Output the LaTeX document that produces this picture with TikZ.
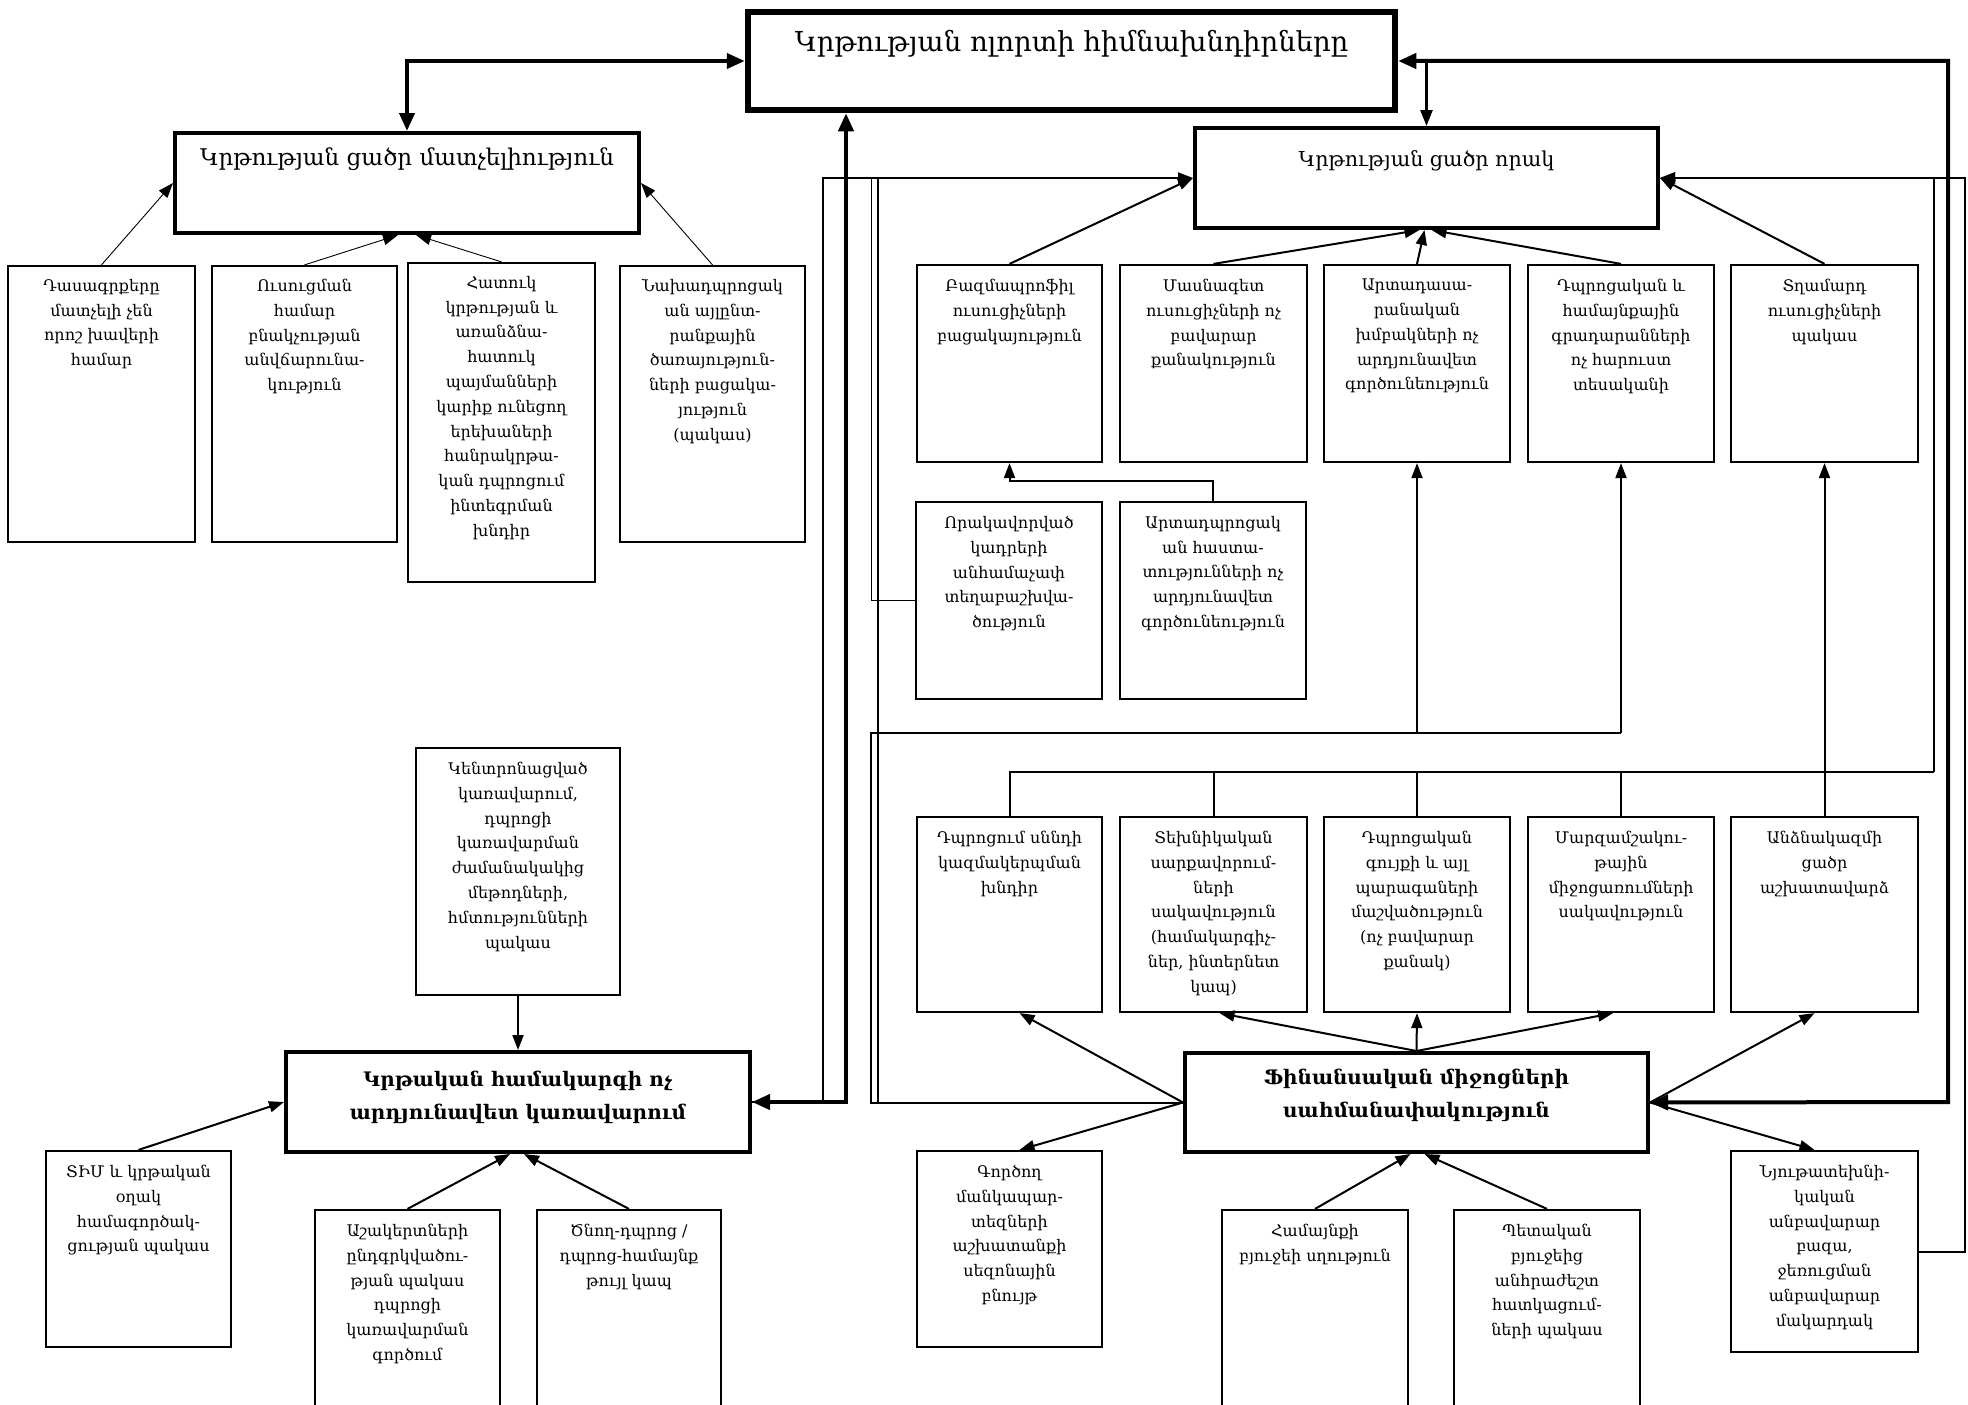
\documentclass[tikz,border=0pt]{standalone}
\usepackage{fontspec}
\setmainfont{DejaVu Serif}
\usetikzlibrary{arrows.meta}
\tikzset{
  bxthin/.style={draw, line width=2.2pt, rectangle, inner sep=0pt},
  bxthick/.style={draw, line width=4pt, rectangle, inner sep=0pt},
  bxmain/.style={draw, line width=6.5pt, rectangle, inner sep=0pt},
  txs/.style={align=center, inner sep=0pt, font=\fontsize{16}{24.8}\selectfont},
  txm/.style={align=center, inner sep=0pt, font=\fontsize{20.6}{30}\selectfont},
  txa/.style={align=center, inner sep=0pt, font=\fontsize{23}{30}\selectfont},
  txb/.style={align=center, inner sep=0pt, font=\bfseries\fontsize{20}{33}\selectfont},
  txl/.style={align=center, inner sep=0pt, font=\fontsize{27.5}{30}\selectfont},
  arA/.style={line width=0.9pt, -{Triangle[length=15pt,width=11pt]}},
  arB/.style={line width=2pt, -{Triangle[length=15pt,width=11pt]}},
  arS/.style={line width=2.6pt, -{Triangle[length=16pt,width=12pt]}},
  lnB/.style={line width=2pt},
  lnC/.style={line width=1pt},
  arT/.style={line width=4pt, {Triangle[length=18pt,width=15pt]}-{Triangle[length=18pt,width=15pt]}},
}
\newcommand\mkbox[9]{%
  \node[#6, minimum width={(#4-#2)*1pt}, minimum height={(#5-#3)*1pt}] (#1) at ({(#2+#4)/2},{(#3+#5)/2}) {};
  \node[#7, anchor=north] (#1-t) at ([yshift=-#8pt]#1.north) {#9};
}
\begin{document}
\begin{tikzpicture}[x=1pt,y=-1pt]
\fill[white] (0,0) rectangle (1968,1405);
\useasboundingbox (0,0) rectangle (1968,1405);

% ---------- boxes ----------
\mkbox{m}{748}{12}{1395}{110}{bxmain}{txl}{21}{Կրթության ոլորտի հիմնախնդիրները}
\mkbox{a}{175}{133}{639}{233}{bxthick}{txa}{17}{Կրթության ցածր մատչելիություն}
\mkbox{b1}{8}{266}{195}{542}{bxthin}{txs}{14}{Դասագրքերը\\մատչելի չեն\\որոշ խավերի\\համար}
\mkbox{b2}{212}{266}{397}{542}{bxthin}{txs}{14}{Ուսուցման\\համար\\բնակչության\\անվճարունա-\\կություն}
\mkbox{b3}{408}{263}{595}{582}{bxthin}{txs}{14}{Հատուկ\\կրթության և\\առանձնա-\\հատուկ\\պայմանների\\կարիք ունեցող\\երեխաների\\հանրակրթա-\\կան դպրոցում\\ինտեգրման\\խնդիր}
\mkbox{b4}{620}{266}{805}{542}{bxthin}{txs}{14}{Նախադպրոցակ\\ան այլընտ-\\րանքային\\ծառայություն-\\ների բացակա-\\յություն\\(պակաս)}

\mkbox{q}{1195}{128}{1658}{228}{bxthick}{txm}{24}{Կրթության ցածր որակ}
\mkbox{u1}{917}{265}{1102}{462}{bxthin}{txs}{15}{Բազմապրոֆիլ\\ուսուցիչների\\բացակայություն}
\mkbox{u2}{1120}{265}{1307}{462}{bxthin}{txs}{15}{Մասնագետ\\ուսուցիչների ոչ\\բավարար\\քանակություն}
\mkbox{u3}{1324}{265}{1510}{462}{bxthin}{txs}{15}{Արտադասա-\\րանական\\խմբակների ոչ\\արդյունավետ\\գործունեություն}
\mkbox{u4}{1528}{265}{1714}{462}{bxthin}{txs}{15}{Դպրոցական և\\համայնքային\\գրադարանների\\ոչ հարուստ\\տեսականի}
\mkbox{u5}{1731}{265}{1918}{462}{bxthin}{txs}{15}{Տղամարդ\\ուսուցիչների\\պակաս}

\mkbox{r1}{916}{502}{1102}{699}{bxthin}{txs}{15}{Որակավորված\\կադրերի\\անհամաչափ\\տեղաբաշխվա-\\ծություն}
\mkbox{r2}{1120}{502}{1306}{699}{bxthin}{txs}{15}{Արտադպրոցակ\\ան հաստա-\\տությունների ոչ\\արդյունավետ\\գործունեություն}

\mkbox{l1}{917}{817}{1102}{1012}{bxthin}{txs}{15}{Դպրոցում սննդի\\կազմակերպման\\խնդիր}
\mkbox{l2}{1120}{817}{1307}{1012}{bxthin}{txs}{15}{Տեխնիկական\\սարքավորում-\\ների\\սակավություն\\(համակարգիչ-\\ներ, ինտերնետ\\կապ)}
\mkbox{l3}{1324}{817}{1510}{1012}{bxthin}{txs}{15}{Դպրոցական\\գույքի և այլ\\պարագաների\\մաշվածություն\\(ոչ բավարար\\քանակ)}
\mkbox{l4}{1528}{817}{1714}{1012}{bxthin}{txs}{15}{Մարզամշակու-\\թային\\միջոցառումների\\սակավություն}
\mkbox{l5}{1731}{817}{1918}{1012}{bxthin}{txs}{15}{Անձնակազմի\\ցածր\\աշխատավարձ}

\mkbox{f}{1185}{1053}{1648}{1152}{bxthick}{txb}{18}{Ֆինանսական միջոցների\\սահմանափակություն}
\mkbox{k1}{917}{1151}{1102}{1347}{bxthin}{txs}{15}{Գործող\\մանկապար-\\տեզների\\աշխատանքի\\սեզոնային\\բնույթ}
\mkbox{k2}{1222}{1210}{1408}{1425}{bxthin}{txs}{15}{Համայնքի\\բյուջեի սղություն}
\mkbox{k3}{1454}{1210}{1640}{1425}{bxthin}{txs}{15}{Պետական\\բյուջեից\\անհրաժեշտ\\հատկացում-\\ների պակաս}
\mkbox{k4}{1731}{1151}{1918}{1352}{bxthin}{txs}{15}{Նյութատեխնի-\\կական\\անբավարար\\բազա,\\ջեռուցման\\անբավարար\\մակարդակ}

\mkbox{kent}{416}{748}{620}{995}{bxthin}{txs}{15}{Կենտրոնացված\\կառավարում,\\դպրոցի\\կառավարման\\ժամանակակից\\մեթոդների,\\հմտությունների\\պակաս}
\mkbox{g}{286}{1052}{750}{1152}{bxthick}{txb}{21}{Կրթական համակարգի ոչ\\արդյունավետ կառավարում}
\mkbox{tim}{46}{1151}{231}{1347}{bxthin}{txs}{15}{ՏԻՄ և կրթական\\օղակ\\համագործակ-\\ցության պակաս}
\mkbox{ash}{315}{1210}{500}{1425}{bxthin}{txs}{15}{Աշակերտների\\ընդգրկվածու-\\թյան պակաս\\դպրոցի\\կառավարման\\գործում}
\mkbox{tsn}{537}{1210}{721}{1425}{bxthin}{txs}{15}{Ծնող-դպրոց /\\դպրոց-համայնք\\թույլ կապ}

% ---------- coordinates ----------
\coordinate (jq) at (q.north |- m.east);
\coordinate (rr) at (1948,1102);
\coordinate (gx) at (846,1102);
\coordinate (bw1) at (823,178);
\coordinate (bw2) at (871,178);
\coordinate (bw3) at (878,178);
\coordinate (c1) at (871,733);
\coordinate (d1) at (1934,772);
\coordinate (e1) at (1965,178);

% ---------- thick links ----------
\draw[arT] (a.north) |- (m.west);
\draw[arS] (jq) -- (q.north);
\draw[arT] (f.east) -- (rr) |- (m.east);
\draw[arT] (g.east) -- (gx) -- (gx |- m.south);

% ---------- to A ----------
\draw[arA] (b1.north) -- (a.west);
\draw[arA] (b2.north) -- ([xshift=-9pt]a.south);
\draw[arA] (b3.north) -- ([xshift=9pt]a.south);
\draw[arA] (b4.north) -- (a.east);

% ---------- to Q ----------
\draw[arB] (u1.north) -- (q.west);
\draw[arB] (u2.north) -- ([xshift=-7pt]q.south);
\draw[arB] (u3.north) -- ([xshift=-2pt]q.south);
\draw[arB] (u4.north) -- ([xshift=5pt]q.south);
\draw[arB] (u5.north) -- (q.east);
\draw[arB] (r2.north) -- ++(0,-20) -| (u1.south);

\draw[arB] (g.east) -| (bw1) -- (q.west);
\draw[lnC] (r1.west) -| (bw2);
\draw[lnB] (f.west) -| (bw3);
\draw[lnB] (f.west) -| (c1) -- (u4.south |- c1);
\draw[arB] (u3.south |- c1) -- (u3.south);
\draw[arB] (u4.south |- c1) -- (u4.south);

\draw[lnB] (l1.north) |- (d1);
\draw[arB] (d1) |- (q.east);
\draw[lnB] (l2.north) -- (l2.north |- d1);
\draw[lnB] (l3.north) -- (l3.north |- d1);
\draw[lnB] (l4.north) -- (l4.north |- d1);
\draw[arB] (l5.north) -- (u5.south);
\draw[arB] (k4.east) -| (e1) -- (q.east);

% ---------- around F ----------
\draw[arB] (f.west) -- ([xshift=10pt]l1.south);
\draw[arB] (f.north) -- ([xshift=6pt]l2.south);
\draw[arB] (f.north) -- (l3.south);
\draw[arB] (f.north) -- ([xshift=-8pt]l4.south);
\draw[arB] (f.east) -- ([xshift=-10pt]l5.south);
\draw[arB] (f.west) -- ([xshift=10pt]k1.north);
\draw[arB] (k2.north) -- ([xshift=-6pt]f.south);
\draw[arB] (k3.north) -- ([xshift=8pt]f.south);
\draw[arB] (f.east) -- ([xshift=-10pt]k4.north);

% ---------- around G ----------
\draw[arB] (kent.south) -- (g.north);
\draw[arB] (tim.north) -- (g.west);
\draw[arB] (ash.north) -- ([xshift=-8pt]g.south);
\draw[arB] (tsn.north) -- ([xshift=6pt]g.south);
\end{tikzpicture}
\end{document}
